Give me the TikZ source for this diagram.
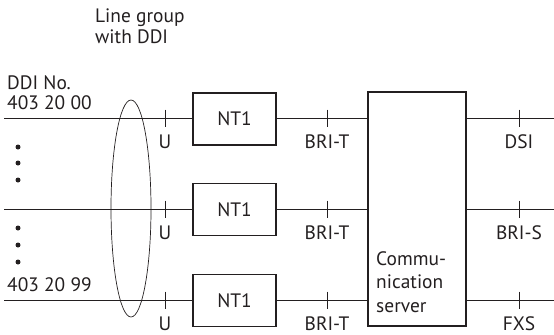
\documentclass[tikz,border=0pt]{standalone}
\usepackage{fontspec}
\setmainfont{PT Sans}
\usetikzlibrary{shapes.geometric}
\definecolor{ink}{HTML}{231F20}
\begin{document}
\begin{tikzpicture}[x=1bp,y=-1bp,
  every node/.style={text=ink,font=\fontsize{19.5}{21}\selectfont},
  wire/.style={draw=ink,line width=0.8bp},
  boxed/.style={draw=ink,line width=1.5bp,inner sep=0pt},
  lbl/.style={anchor=base,inner sep=0pt},
  lblw/.style={anchor=base west,inner sep=0pt},
  dotmark/.style={circle,fill=ink,inner sep=0pt,minimum size=5bp},
  tickmark/.style={draw=ink,line width=0.8bp}]
\useasboundingbox (0,0) rectangle (554,334);
% boxes
\node[boxed,minimum width=83bp,minimum height=52bp] (nt1) at (234.5,119) {NT1};
\node[boxed,minimum width=83bp,minimum height=52bp] (nt2) at (234.5,209.5) {NT1};
\node[boxed,minimum width=83bp,minimum height=52bp] (nt3) at (234.5,300.5) {NT1};
\node[boxed,minimum width=98bp,minimum height=234bp] (cs) at (417,209) {};
% line ends
\coordinate (l1) at (4,118);
\coordinate (l2) at (4,209);
\coordinate (l3) at (4,300);
\coordinate (r1) at (554,118);
\coordinate (r2) at (554,209);
\coordinate (r3) at (554,300);
% wires
\draw[wire] (l1) -- (l1 -| nt1.west);
\draw[wire] (l2) -- (l2 -| nt2.west);
\draw[wire] (l3) -- (l3 -| nt3.west);
\draw[wire] (l1 -| nt1.east) -- (l1 -| cs.west);
\draw[wire] (l2 -| nt2.east) -- (l2 -| cs.west);
\draw[wire] (l3 -| nt3.east) -- (l3 -| cs.west);
\draw[wire] (r1 -| cs.east) -- (r1);
\draw[wire] (r2 -| cs.east) -- (r2);
\draw[wire] (r3 -| cs.east) -- (r3);
% ticks
\foreach \y/\i in {118/1,209/2,300/3}{
  \coordinate (u\i) at (165,\y);
  \coordinate (t\i) at (327,\y);
  \coordinate (s\i) at (519,\y);
  \draw[tickmark] ([yshift=8.5bp]u\i) -- ([yshift=-8.5bp]u\i);
  \draw[tickmark] ([yshift=8.5bp]t\i) -- ([yshift=-8.5bp]t\i);
  \draw[tickmark] ([yshift=8.5bp]s\i) -- ([yshift=-8.5bp]s\i);
  \node[lbl] (ul\i) at (165,\y+30) {U};
  \node[lbl] (tl\i) at (327,\y+30) {BRI-T};
}
\node[lbl] (sl1) at (519,148) {DSI};
\node[lbl] (sl2) at (519,239) {BRI-S};
\node[lbl] (sl3) at (519,330) {FXS};
% ellipse
\node[draw=ink,line width=0.7bp,ellipse,minimum width=40bp,minimum height=217bp,inner sep=0pt] (grp) at (131,208.5) {};
% texts
\node[lblw] (lg1) at (95,22) {Line group};
\node[lblw] (lg2) at (95,43) {with DDI};
\node[lblw] (ddi1) at (7,89.5) {DDI No.};
\node[lblw] (ddi2) at (7,109) {403 20 00};
\node[lblw] (ddi3) at (7,291) {403 20 99};
\node[lblw] (cs1) at (376,265) {Commu-};
\node[lblw] (cs2) at (376,288.5) {nication};
\node[lblw] (cs3) at (376,312) {server};
% dots
\foreach \y/\i in {147/1,163/2,180/3,228/4,245/5,262/6}{
  \node[dotmark] (d\i) at (18,\y) {};
}
\end{tikzpicture}
\end{document}
